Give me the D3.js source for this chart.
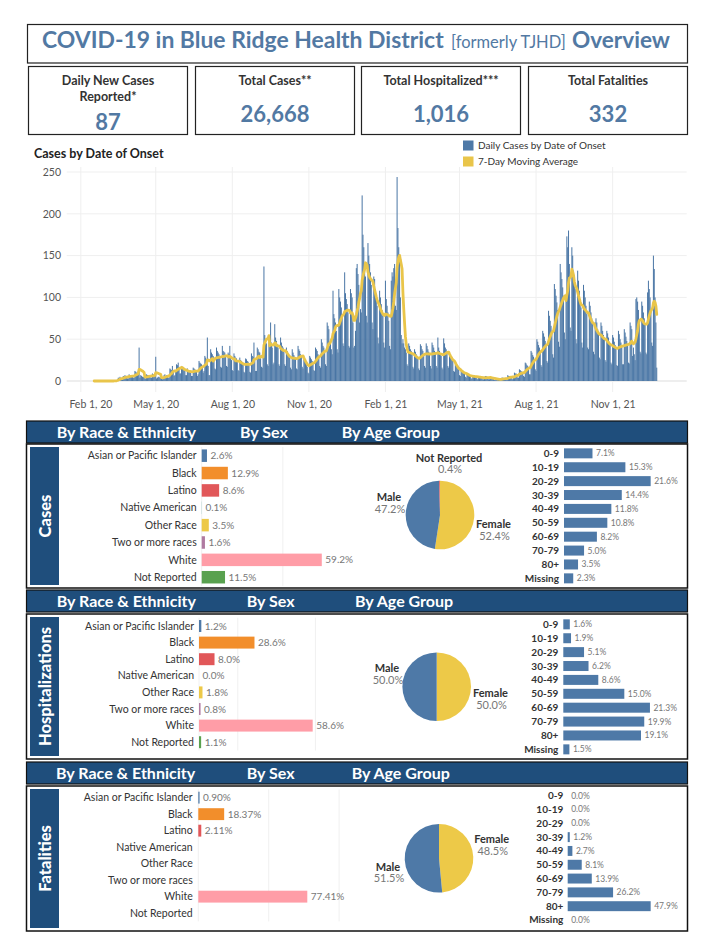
<!DOCTYPE html>
<html><head><meta charset="utf-8">
<script src="https://cdn.jsdelivr.net/npm/d3@7"></script>
<style>
body{margin:0;background:#fff;}
svg{display:block;font-family:Lato,"Open Sans",sans-serif;}
</style></head><body>
<svg id="c" width="702" height="942"></svg>
<script>
// ---------------- DATA ----------------
const titleParts = ["COVID-19 in Blue Ridge Health District", "[formerly TJHD]", "Overview"];
const kpiLabels = [["Daily New Cases", "Reported*"], ["Total Cases**"], ["Total Hospitalized***"], ["Total Fatalities"]];
const kpiValues = ["87", "26,668", "1,016", "332"];

const chartTitle = "Cases by Date of Onset";
const legendLabels = ["Daily Cases by Date of Onset", "7-Day Moving Average"];
const onsetStart = "2020-02-17";
// daily cases by date of onset, Feb 17 2020 - Dec 31 2020 (one row per week, Mon-Sun)
const cases2020 = [
0,0,0,0,0,0,0,
0,0,0,0,0,0,0,
0,0,0,0,0,0,0,
0,0,0,1,0,0,1,
2,4,3,5,3,2,2,
6,5,7,5,6,3,3,
8,7,6,7,6,4,4,
12,11,10,9,12,40,4,
7,6,5,5,4,3,3,
8,7,7,6,6,4,4,
9,8,7,8,29,3,4,
5,5,4,4,4,2,3,
7,8,6,7,6,4,4,
15,14,13,18,12,6,7,
12,20,19,22,17,9,9,
18,17,15,14,13,7,7,
15,13,12,13,12,6,6,
16,15,14,13,12,6,8,
24,22,21,20,17,10,12,
30,28,26,52,18,7,7,
38,34,32,30,28,15,14,
40,36,34,32,28,17,16,
42,36,35,34,30,18,17,
34,32,42,28,25,13,12,
33,30,28,27,24,13,12,
28,25,24,22,20,11,10,
27,26,24,23,19,11,10,
33,30,29,46,25,12,12,
40,38,35,34,30,17,16,
30,137,55,50,45,20,18,
55,52,70,46,40,20,22,
68,52,48,44,40,20,18,
52,46,42,40,36,20,18,
40,36,32,30,28,16,14,
38,34,31,29,27,15,14,
42,38,36,32,30,17,15,
26,24,22,20,17,10,9,
30,28,26,24,22,13,12,
40,38,36,32,30,18,16,
50,46,42,40,36,20,18,
70,66,62,42,48,38,32,
108,80,75,70,60,38,34,
110,100,95,88,80,45,42,
130,105,98,92,82,42,40,
110,105,100,70,40,42,60,
135,140,128,115
];
// daily cases by date of onset, Jan 1 2021 - Dec 24 2021
const cases2021 = [
70,86,82,
222,175,160,140,125,78,70,
165,150,140,130,115,70,62,
125,122,110,100,90,52,45,
108,100,92,85,78,46,40,
120,98,90,82,72,42,38,
120,130,125,135,140,90,85,
244,183,160,150,100,55,45,
50,45,40,38,34,20,18,
45,42,38,36,32,17,15,
38,35,32,30,27,15,13,
44,42,38,36,32,18,16,
45,42,38,35,32,18,15,
46,43,40,36,33,18,16,
52,40,36,33,30,16,14,
51,45,40,38,34,18,16,
34,32,28,26,24,12,11,
20,18,17,15,14,7,6,
13,12,11,10,9,5,4,
9,8,7,6,6,3,3,
7,7,6,5,5,3,2,
6,6,5,4,4,2,2,
3,6,6,5,4,2,2,
5,4,4,3,3,1,1,
3,3,2,2,2,1,1,
4,4,3,3,3,2,1,
7,6,6,5,5,3,2,
5,10,9,9,8,4,4,
14,13,12,11,10,6,5,
22,21,19,18,16,8,8,
36,34,31,29,26,14,12,
50,47,43,40,36,19,17,
60,57,53,48,44,24,22,
84,78,72,66,60,32,28,
116,110,102,94,85,47,41,
140,130,122,112,102,58,50,
100,173,160,180,140,64,60,
160,150,132,125,110,50,45,
132,120,108,98,88,46,40,
115,108,100,90,80,40,38,
95,90,82,75,68,35,32,
70,75,70,62,56,28,26,
70,66,60,55,50,25,23,
60,57,52,47,43,22,20,
55,52,47,43,39,19,18,
60,56,50,46,42,20,20,
62,58,53,48,44,22,21,
70,66,62,30,40,32,25,
98,100,95,85,72,35,33,
95,90,82,75,68,34,32,
106,120,110,100,86,46,42,
150,134,100,70,16
];
const yTicks = [0, 50, 100, 150, 200, 250];
const xTickDates = ["2020-02-01", "2020-05-01", "2020-08-01", "2020-11-01", "2021-02-01", "2021-05-01", "2021-08-01", "2021-11-01"];
const xTickLabels = ["Feb 1, 20", "May 1, 20", "Aug 1, 20", "Nov 1, 20", "Feb 1, 21", "May 1, 21", "Aug 1, 21", "Nov 1, 21"];

const headerLabels = ["By Race & Ethnicity", "By Sex", "By Age Group"];
const sectionNames = ["Cases", "Hospitalizations", "Fatalities"];

const raceCategories = ["Asian or Pacific Islander", "Black", "Latino", "Native American", "Other Race", "Two or more races", "White", "Not Reported"];
const raceColors = ["#4e79a7", "#f28e2b", "#e15759", "#76b7b2", "#edc948", "#b07aa1", "#ff9da7", "#59a14f"];
const casesRace = [2.6, 12.9, 8.6, 0.1, 3.5, 1.6, 59.2, 11.5];
const hospRace = [1.2, 28.6, 8.0, 0.0, 1.8, 0.8, 58.6, 1.1];
const fatalRace = [0.90, 18.37, 2.11, null, null, null, 77.41, null];

const sexCategories = ["Female", "Male", "Not Reported"];
const sexColors = ["#edc948", "#4e79a7", "#e15759"];
const casesSex = [52.4, 47.2, 0.4];
const hospSex = [50.0, 50.0, 0];
const fatalSex = [48.5, 51.5, 0];

const ageGroups = ["0-9", "10-19", "20-29", "30-39", "40-49", "50-59", "60-69", "70-79", "80+", "Missing"];
const casesAge = [7.1, 15.3, 21.6, 14.4, 11.8, 10.8, 8.2, 5.0, 3.5, 2.3];
const hospAge = [1.6, 1.9, 5.1, 6.2, 8.6, 15.0, 21.3, 19.9, 19.1, 1.5];
const fatalAge = [0.0, 0.0, 0.0, 1.2, 2.7, 8.1, 13.9, 26.2, 47.9, 0.0];

// ---------------- DRAW ----------------
const svg = d3.select('#c');
const BLUE = '#4e79a7', YEL = '#e9c54a', HDR = '#1f4e7c', TITLEBLUE = '#5279a3';

function fit(sel, w) {
  const L = sel.node().getComputedTextLength();
  const fs = parseFloat(sel.attr('font-size'));
  if (L > 0) sel.attr('font-size', fs * w / L);
  return sel;
}

// Title
svg.append('rect').attr('x', 27.5).attr('y', 24.5).attr('width', 660).attr('height', 38.5)
  .attr('fill', 'none').attr('stroke', '#222').attr('stroke-width', 1.2);
const tspec = [{x: 42, w: 402, b: 700, fs: 21}, {x: 451, w: 115, b: 400, fs: 16}, {x: 572, w: 98, b: 700, fs: 21}];
titleParts.forEach((t, i) => {
  const s = svg.append('text').attr('x', tspec[i].x).attr('y', 48).attr('font-size', tspec[i].fs)
    .attr('font-weight', tspec[i].b).attr('fill', TITLEBLUE).text(t);
  fit(s, tspec[i].w);
});

// KPI boxes
const kx = [28, 195, 361, 528];
kpiLabels.forEach((lab, i) => {
  svg.append('rect').attr('x', kx[i] + 0.5).attr('y', 66.5).attr('width', 159).attr('height', 68)
    .attr('fill', 'none').attr('stroke', '#222').attr('stroke-width', 1.2);
  const cx = kx[i] + 80;
  lab.forEach((l, j) => {
    svg.append('text').attr('x', cx).attr('y', 84.5 + j * 16).attr('text-anchor', 'middle')
      .attr('font-size', 12.5).attr('font-weight', 700).attr('fill', '#333').text(l);
  });
  svg.append('text').attr('x', cx).attr('y', lab.length > 1 ? 129.5 : 122).attr('text-anchor', 'middle')
    .attr('font-size', 22).attr('font-weight', 700).attr('fill', TITLEBLUE).text(kpiValues[i]);
});

// Time series chart
const parse = d3.utcParse('%Y-%m-%d');
const start = parse(onsetStart);
const daily = cases2020.concat(cases2021);
const series = daily.map((v, i) => ({date: d3.utcDay.offset(start, i), v}));
const ma = series.map((d, i) => ({date: d.date, v: d3.mean(daily.slice(Math.max(0, i - 6), i + 1))}));
const x = d3.scaleUtc().domain([parse('2020-01-15'), parse('2022-01-29')]).range([66.7, 686.7]);
const y = d3.scaleLinear().domain([0, 250]).range([381, 172]);

svg.append('text').attr('x', 34).attr('y', 158).attr('font-size', 12.5).attr('font-weight', 700)
  .attr('fill', '#222').text(chartTitle);
[BLUE, YEL].forEach((c, i) => {
  svg.append('rect').attr('x', 463).attr('y', 140.5 + i * 16).attr('width', 10.5).attr('height', 10).attr('fill', c);
  svg.append('text').attr('x', 478).attr('y', 149 + i * 16).attr('font-size', 10).attr('fill', '#333').text(legendLabels[i]);
});

const g = svg.append('g');
g.selectAll('.hg').data(yTicks).join('line').attr('x1', 66.7).attr('x2', 686.7)
  .attr('y1', d => y(d)).attr('y2', d => y(d)).attr('stroke', d => d === 0 ? '#ddd' : '#efefef');
g.selectAll('.vg').data(xTickDates.map(parse)).join('line').attr('x1', d => x(d)).attr('x2', d => x(d))
  .attr('y1', 167).attr('y2', 392).attr('stroke', '#efefef');

g.append('g').selectAll('rect').data(series.filter(d => d.v > 0)).join('rect')
  .attr('x', d => x(d.date) - 0.5).attr('width', 1.0)
  .attr('y', d => y(d.v)).attr('height', d => y(0) - y(d.v)).attr('fill', '#4a76a5');

g.append('path').datum(ma).attr('fill', 'none').attr('stroke', YEL).attr('stroke-width', 2.8)
  .attr('stroke-linejoin', 'round').attr('stroke-linecap', 'round')
  .attr('d', d3.line().x(d => x(d.date)).y(d => y(d.v)));

const xa = svg.append('g').attr('transform', 'translate(0,408)')
  .call(d3.axisBottom(x).tickValues(xTickDates.map(parse)).tickFormat((d, i) => xTickLabels[i]).tickSize(0));
xa.select('.domain').remove();
xa.selectAll('text').attr('y', 0).attr('dy', null).attr('font-size', 10.5).attr('fill', '#555')
  .attr('font-family', 'Lato, sans-serif');
xa.selectAll('.tick').filter((d, i) => i === 0).select('text').attr('x', 9.5);

const ya = svg.append('g').attr('transform', 'translate(66,0)')
  .call(d3.axisLeft(y).tickValues(yTicks).tickSize(0).tickPadding(5));
ya.select('.domain').remove();
ya.selectAll('text').attr('font-size', 10.5).attr('fill', '#555').attr('font-family', 'Lato, sans-serif');

// Sections
const sections = [
  {name: sectionNames[0], hy: 421, by: 444, bh: 144, hx: [56.7, 240, 341.7],
   race: casesRace, rfmt: d3.format('.1f'), rLabelX: 196.7, rX0: 201.7, rMax: 70, rW: 142, rBand: [447, 585.9], rGrid: [40],
   sex: casesSex, pie: [440, 515],
   plabels: [{i: 2, x: 449, y: 461.5}, {i: 1, x: 389, y: 501}, {i: 0, x: 493.5, y: 528}],
   age: casesAge, aLabelX: 559, aX0: 564, aMax: 25, aW: 100.3, aBand: [446.4, 585.3]},
  {name: sectionNames[1], hy: 590, by: 614, bh: 145, hx: [56.7, 246.7, 355],
   race: hospRace, rfmt: d3.format('.1f'), rLabelX: 194, rX0: 199, rMax: 80, rW: 155.2, rBand: [617.7, 750.5], rGrid: [20, 60],
   sex: hospSex, pie: [436.7, 686.7],
   plabels: [{i: 1, x: 387, y: 672}, {i: 0, x: 490.5, y: 697}],
   age: hospAge, aLabelX: 558.3, aX0: 563.3, aMax: 25, aW: 101.7, aBand: [617.4, 756.3]},
  {name: sectionNames[2], hy: 762, by: 786, bh: 145, hx: [56, 246.7, 351.7],
   race: fatalRace, rfmt: d3.format('.2f'), rLabelX: 192.7, rX0: 198.3, rMax: 100, rW: 140.8, rBand: [789.4, 921.4], rGrid: [50, 100],
   sex: fatalSex, pie: [439, 858.3],
   plabels: [{i: 0, x: 491.7, y: 843}, {i: 1, x: 388, y: 870.5}],
   age: fatalAge, aLabelX: 563.3, aX0: 567.7, aMax: 50, aW: 86.6, aBand: [788.8, 926.9]}
];

sections.forEach(s => {
  // header bar
  svg.append('rect').attr('x', 26.5).attr('y', s.hy).attr('width', 661).attr('height', 22)
    .attr('fill', HDR).attr('stroke', '#111').attr('stroke-width', 1.2);
  headerLabels.forEach((h, i) => {
    svg.append('text').attr('x', s.hx[i]).attr('y', s.hy + 16.5).attr('font-size', 16).attr('font-weight', 700)
      .attr('fill', '#fff').text(h);
  });
  // box
  svg.append('rect').attr('x', 26.5).attr('y', s.by).attr('width', 661).attr('height', s.bh)
    .attr('fill', '#fff').attr('stroke', '#111').attr('stroke-width', 1.5);
  // side label
  svg.append('rect').attr('x', 30).attr('y', s.by + 3).attr('width', 29).attr('height', s.bh - 6).attr('fill', HDR);
  svg.append('text').attr('transform', `translate(${50.5},${s.by + s.bh / 2}) rotate(-90)`)
    .attr('text-anchor', 'middle').attr('font-size', 16.5).attr('font-weight', 900).attr('fill', '#fff')
    .text(s.name);

  // race bars
  const ry = d3.scaleBand().domain(raceCategories).range(s.rBand).paddingInner(0.28).paddingOuter(0.14);
  const rx = d3.scaleLinear().domain([0, s.rMax]).range([s.rX0, s.rX0 + s.rW]);
  const rg = svg.append('g');
  rg.selectAll('.grid').data(s.rGrid).join('line').attr('x1', d => rx(d)).attr('x2', d => rx(d))
    .attr('y1', s.rBand[0]).attr('y2', s.rBand[1]).attr('stroke', '#f0f0f0');
  rg.append('line').attr('x1', s.rX0).attr('x2', s.rX0).attr('y1', s.rBand[0]).attr('y2', s.rBand[1]).attr('stroke', '#f0f0f0');
  raceCategories.forEach((c, i) => {
    const cy = ry(c) + ry.bandwidth() / 2;
    rg.append('text').attr('x', s.rLabelX).attr('y', cy).attr('dy', '0.35em').attr('text-anchor', 'end')
      .attr('font-size', 10.5).attr('fill', '#333').text(c);
    const v = s.race[i];
    if (v !== null) {
      rg.append('rect').attr('x', rx(0)).attr('y', ry(c)).attr('width', Math.max(0, rx(v) - rx(0)))
        .attr('height', ry.bandwidth()).attr('fill', raceColors[i]);
      rg.append('text').attr('x', rx(v) + 3.5).attr('y', cy).attr('dy', '0.35em')
        .attr('font-size', 10).attr('fill', '#777').text(s.rfmt(v) + '%');
    }
  });

  // pie
  const pie = d3.pie().sort(null).value(d => d)(s.sex);
  const arc = d3.arc().innerRadius(0).outerRadius(34.3);
  svg.append('g').attr('transform', `translate(${s.pie[0]},${s.pie[1]})`)
    .selectAll('path').data(pie.filter(d => d.data > 0)).join('path')
    .attr('d', arc).attr('fill', d => sexColors[d.index]).attr('stroke', 'none');
  s.plabels.forEach(p => {
    svg.append('text').attr('x', p.x).attr('y', p.y).attr('text-anchor', 'middle').attr('font-size', 11)
      .attr('font-weight', 700).attr('fill', '#333').text(sexCategories[p.i]);
    svg.append('text').attr('x', p.x + 1).attr('y', p.y + 11.5).attr('text-anchor', 'middle').attr('font-size', 11)
      .attr('fill', '#777').text(d3.format('.1f')(s.sex[p.i]) + '%');
  });

  // age bars
  const ay = d3.scaleBand().domain(ageGroups).range(s.aBand).paddingInner(0.28).paddingOuter(0.14);
  const ax = d3.scaleLinear().domain([0, s.aMax]).range([s.aX0, s.aX0 + s.aW]);
  const ag = svg.append('g');
  ageGroups.forEach((a, i) => {
    const cy = ay(a) + ay.bandwidth() / 2;
    ag.append('text').attr('x', s.aLabelX).attr('y', cy).attr('dy', '0.35em').attr('text-anchor', 'end')
      .attr('font-size', 10).attr('font-weight', 700).attr('fill', '#333').text(a);
    const v = s.age[i];
    ag.append('rect').attr('x', ax(0)).attr('y', ay(a)).attr('width', ax(v) - ax(0))
      .attr('height', ay.bandwidth()).attr('fill', BLUE);
    ag.append('text').attr('x', ax(v) + 3.5).attr('y', cy).attr('dy', '0.35em')
      .attr('font-size', 8.5).attr('fill', '#777').text(d3.format('.1f')(v) + '%');
  });
});
</script>
</body></html>
